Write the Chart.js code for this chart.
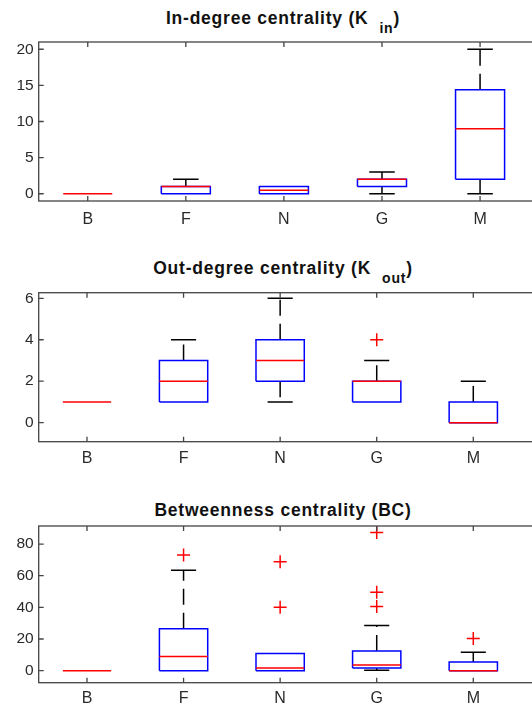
<!DOCTYPE html>
<html>
<head>
<meta charset="utf-8">
<script src="https://cdn.jsdelivr.net/npm/chart.js@4.4.1/dist/chart.umd.min.js"></script>
<style>
html, body { margin: 0; padding: 0; background: #fff; width: 532px; height: 708px; overflow: hidden; position: relative; }
canvas { position: absolute; left: 0; }
.title { position: absolute; left: 38px; width: 490px; text-align: center; white-space: nowrap;
  font: bold 17.5px "Liberation Sans", Arial, sans-serif; letter-spacing: 0.77px; line-height: 17.5px; color: #111; }
.title .sub { position: relative; top: 9px; margin-left: 11px; font-size: 14px; }
</style>
</head>
<body>
<div class="title" style="top:9.5px">In-degree centrality (K<span class="sub">in</span>)</div>
<div class="title" style="top:260.2px">Out-degree centrality (K<span class="sub">out</span>)</div>
<div class="title" style="top:501.9px">Betweenness centrality (BC)</div>
<canvas id="kin" width="560" height="236" style="top:0px"></canvas>
<canvas id="kout" width="560" height="234" style="top:236px"></canvas>
<canvas id="bc" width="560" height="238" style="top:470px"></canvas>
<script>
// groups along the x axis
const categories = ['B', 'F', 'N', 'G', 'M'];

// In-degree centrality
const kinQ1 = [0, 0, 0, 1, 2];
const kinMedian = [0, 1, 0.5, 2, 9];
const kinQ3 = [0, 1, 1, 2, 14.4];
const kinLow = [0, 0, 0, 0, 0];
const kinHigh = [0, 2, 1, 3, 20];
const kinOutliers = [[], [], [], [], []];
const kinTicks = [0, 5, 10, 15, 20];

// Out-degree centrality
const koutQ1 = [1, 1, 2, 1, 0];
const koutMedian = [1, 2, 3, 2, 0];
const koutQ3 = [1, 3, 4, 2, 1];
const koutLow = [1, 1, 1, 1, 0];
const koutHigh = [1, 4, 6, 3, 2];
const koutOutliers = [[], [], [], [4], []];
const koutTicks = [0, 2, 4, 6];

// Betweenness centrality
const bcQ1 = [0, 0, 0, 1.7, 0];
const bcMedian = [0, 9, 1.7, 3.6, 0];
const bcQ3 = [0, 26.5, 10.8, 12.5, 5.4];
const bcLow = [0, 0, 0, 0.2, 0];
const bcHigh = [0, 63.5, 10.8, 28.5, 11.7];
const bcOutliers = [[], [73], [40, 68.8], [40.5, 49.6, 87.3], [20.3]];
const bcTicks = [0, 20, 40, 60, 80];

const BOX_HALF = 0.25;
const CAP_HALF = 0.13;
const TICK_LEN = 5;
const AXIS_COLOR = '#444';
const TEXT_COLOR = '#2a2a2a';

function boxOutline(q1, q3) {
    const pts = [];
    q1.forEach((lo, i) => {
        if (q3[i] === lo) return; // flat box: only the median shows
        const x = i + 1;
        pts.push({x: x - BOX_HALF, y: lo}, {x: x + BOX_HALF, y: lo}, {x: x + BOX_HALF, y: q3[i]},
                 {x: x - BOX_HALF, y: q3[i]}, {x: x - BOX_HALF, y: lo}, {x: x, y: null});
    });
    return pts;
}

function hLines(values, half) {
    const pts = [];
    values.forEach((v, i) => {
        if (v === null) return;
        pts.push({x: i + 1 - half, y: v}, {x: i + 1 + half, y: v}, {x: i + 1, y: null});
    });
    return pts;
}

function whiskers(q1, q3, low, high) {
    const pts = [];
    q1.forEach((v, i) => {
        const x = i + 1;
        if (high[i] > q3[i]) pts.push({x: x, y: q3[i]}, {x: x, y: high[i]}, {x: x, y: null});
        if (low[i] < v) pts.push({x: x, y: v}, {x: x, y: low[i]}, {x: x, y: null});
    });
    return pts;
}

const frameTicks = {
    id: 'frameTicks',
    afterDatasetsDraw(chart) {
        const {ctx, chartArea: a, scales: {x, y}} = chart;
        ctx.save();
        ctx.strokeStyle = AXIS_COLOR;
        ctx.lineWidth = 1.3;
        ctx.strokeRect(a.left, a.top, a.right - a.left, a.bottom - a.top);
        ctx.beginPath();
        x.ticks.forEach(t => {
            const px = x.getPixelForValue(t.value);
            ctx.moveTo(px, a.bottom); ctx.lineTo(px, a.bottom - TICK_LEN);
            ctx.moveTo(px, a.top); ctx.lineTo(px, a.top + TICK_LEN);
        });
        y.ticks.forEach(t => {
            const py = y.getPixelForValue(t.value);
            ctx.moveTo(a.left, py); ctx.lineTo(a.left + TICK_LEN, py);
        });
        ctx.stroke();
        ctx.restore();
    }
};

function drawPanel(id, d) {
    const line = (data, color, extra) => Object.assign({
        data: data, showLine: true, borderColor: color, borderWidth: 1.5,
        pointRadius: 0, pointHoverRadius: 0, spanGaps: false
    }, extra || {});

    const caps = [];
    d.high.forEach((h, i) => { if (h > d.q3[i]) caps.push({x: i + 1 - CAP_HALF, y: h}, {x: i + 1 + CAP_HALF, y: h}, {x: i + 1, y: null}); });
    d.low.forEach((l, i) => { if (l < d.q1[i]) caps.push({x: i + 1 - CAP_HALF, y: l}, {x: i + 1 + CAP_HALF, y: l}, {x: i + 1, y: null}); });

    const outliers = [];
    d.out.forEach((list, i) => list.forEach(v => outliers.push({x: i + 1, y: v})));

    new Chart(document.getElementById(id), {
        type: 'scatter',
        data: {
            datasets: [
                line(hLines(d.med, BOX_HALF), '#ff0000'),
                {data: outliers, pointStyle: 'cross', pointRadius: 6.5, pointHoverRadius: 6.5,
                 borderColor: '#ff0000', borderWidth: 1.5, backgroundColor: '#ff0000'},
                line(boxOutline(d.q1, d.q3), '#0000ff'),
                line(caps, '#000000'),
                line(whiskers(d.q1, d.q3, d.low, d.high), '#000000', {borderDash: [16, 8]})
            ]
        },
        options: {
            responsive: false,
            animation: false,
            devicePixelRatio: 1,
            layout: {padding: {top: d.plotTop, left: 0, right: 0, bottom: 0}},
            plugins: {legend: {display: false}, tooltip: {enabled: false}},
            scales: {
                x: {
                    type: 'linear',
                    min: 0.5,
                    max: 5.815,
                    grid: {display: false, drawTicks: false},
                    border: {display: false},
                    afterBuildTicks: s => { s.ticks = categories.map((c, i) => ({value: i + 1})); },
                    afterFit: s => { s.height = d.xHeight; },
                    ticks: {
                        padding: d.labelPad,
                        autoSkip: false,
                        maxRotation: 0,
                        color: TEXT_COLOR,
                        font: {family: '"Liberation Sans", Arial, sans-serif', size: 16},
                        callback: v => categories[v - 1]
                    }
                },
                y: {
                    min: d.yMin,
                    max: d.yMax,
                    grid: {display: false, drawTicks: false},
                    border: {display: false},
                    afterBuildTicks: s => { s.ticks = d.ticks.map(v => ({value: v})); },
                    afterFit: s => { s.width = 38.7; },
                    ticks: {
                        padding: 5,
                        color: TEXT_COLOR,
                        font: {family: '"Liberation Sans", Arial, sans-serif', size: 15.5}
                    }
                }
            }
        },
        plugins: [frameTicks]
    });
}

drawPanel('kin', {q1: kinQ1, med: kinMedian, q3: kinQ3, low: kinLow, high: kinHigh, out: kinOutliers,
    ticks: kinTicks, yMin: -1, yMax: 21, plotTop: 42, xHeight: 35, labelPad: 9});
drawPanel('kout', {q1: koutQ1, med: koutMedian, q3: koutQ3, low: koutLow, high: koutHigh, out: koutOutliers,
    ticks: koutTicks, yMin: -0.92, yMax: 6.27, plotTop: 56.7, xHeight: 28.3, labelPad: 7});
drawPanel('bc', {q1: bcQ1, med: bcMedian, q3: bcQ3, low: bcLow, high: bcHigh, out: bcOutliers,
    ticks: bcTicks, yMin: -7.6, yMax: 91.4, plotTop: 56, xHeight: 25.3, labelPad: 6});
</script>
</body>
</html>
